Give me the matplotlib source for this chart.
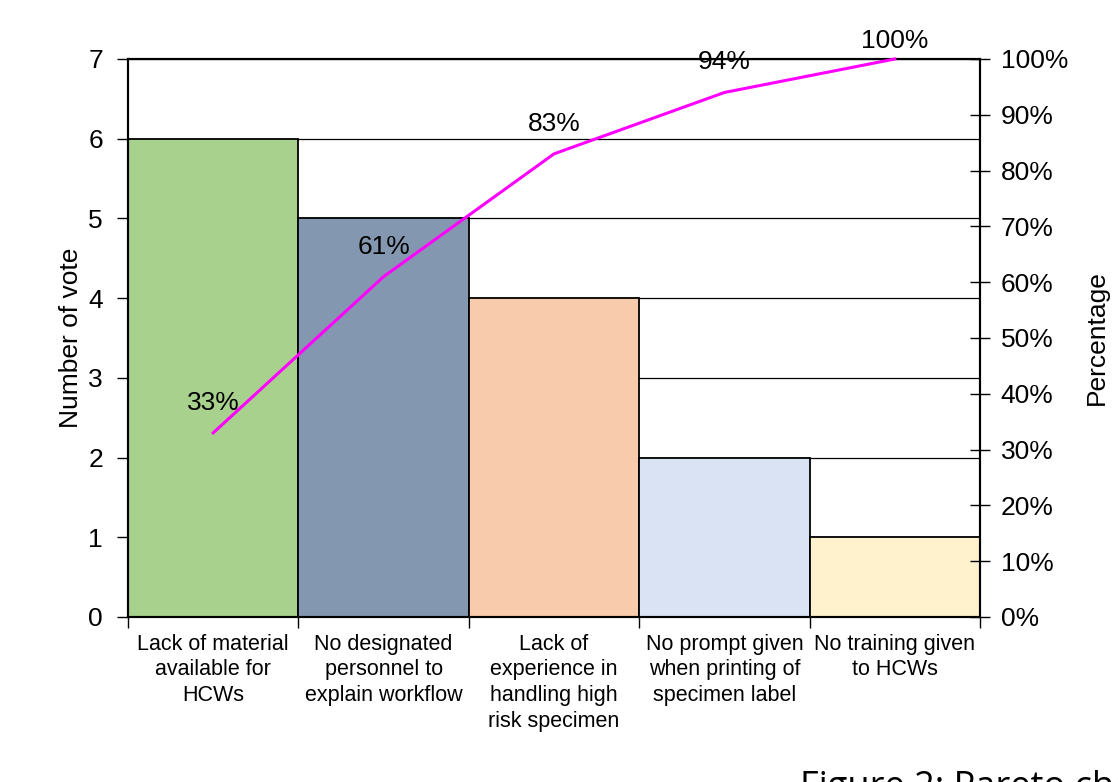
import matplotlib
matplotlib.use("Agg")
import matplotlib.pyplot as plt
import numpy as np

plt.rcParams['font.family'] = ['Liberation Sans', 'DejaVu Sans']

categories = ["Lack of material\navailable for\nHCWs",
              "No designated\npersonnel to\nexplain workflow",
              "Lack of\nexperience in\nhandling high\nrisk specimen",
              "No prompt given\nwhen printing of\nspecimen label",
              "No training given\nto HCWs"]
votes = [6, 5, 4, 2, 1]
cum_pct = [33, 61, 83, 94, 100]
cum_labels = ["33%", "61%", "83%", "94%", "100%"]
bar_colors = ["#A9D18E", "#8497B0", "#F8CBAD", "#DAE3F3", "#FFF2CC"]

W, H = 1118, 782
fig = plt.figure(figsize=(W/100, H/100), dpi=100)
ax = fig.add_axes([128/W, 1-617/H, (980-128)/W, (617-59)/H])

x = np.arange(len(votes))
ax.set_axisbelow(True)
ax.yaxis.grid(True, color='black', linewidth=0.9)
ax.bar(x, votes, width=1.0, color=bar_colors, edgecolor='black', linewidth=1.3, zorder=2)
ax.set_xlim(-0.5, len(votes)-0.5)
ax.set_ylim(0, 7)
ax.set_yticks(range(0, 8))
ax.tick_params(axis='y', labelsize=19, direction='out', length=8, width=1, pad=10)
ax.set_ylabel("Number of vote", fontsize=19, labelpad=4)

# x ticks at boundaries, labels at centers
ax.set_xticks(np.arange(-0.5, len(votes), 1.0))
ax.set_xticklabels([])
ax.tick_params(axis='x', direction='out', length=8, width=1)
ax.set_xticks(x, minor=True)
ax.set_xticklabels(categories, minor=True, fontsize=15.5, linespacing=1.3)
ax.tick_params(axis='x', which='minor', length=0, pad=12)

for s in ax.spines.values():
    s.set_linewidth(1.5)

ax2 = ax.twinx()
ax2.set_ylim(0, 100)
ax2.set_yticks(range(0, 101, 10))
ax2.set_yticklabels([f"{v}%" for v in range(0, 101, 10)])
ax2.tick_params(axis='y', labelsize=19, direction='inout', length=14, width=1, pad=8)
ax2.set_ylabel("Percentage", fontsize=19, labelpad=12)
ax2.plot(x, cum_pct, color='#FF00FF', linewidth=2.2, clip_on=False, zorder=3)
for s in ax2.spines.values():
    s.set_linewidth(1.5)

offsets = [30, 30, 30, 30, 18]
for xi, yi, lab, off in zip(x, cum_pct, cum_labels, offsets):
    ax2.annotate(lab, (xi, yi), xytext=(0, off*0.72), textcoords='offset points',
                 ha='center', va='center', fontsize=19, annotation_clip=False)

fig.text(800/W, 1-770/H, "Figure 2: Pareto chart", fontsize=26, family='Open Sans',
         ha='left', va='top')

fig.savefig("out.png", dpi=100, facecolor='white')
